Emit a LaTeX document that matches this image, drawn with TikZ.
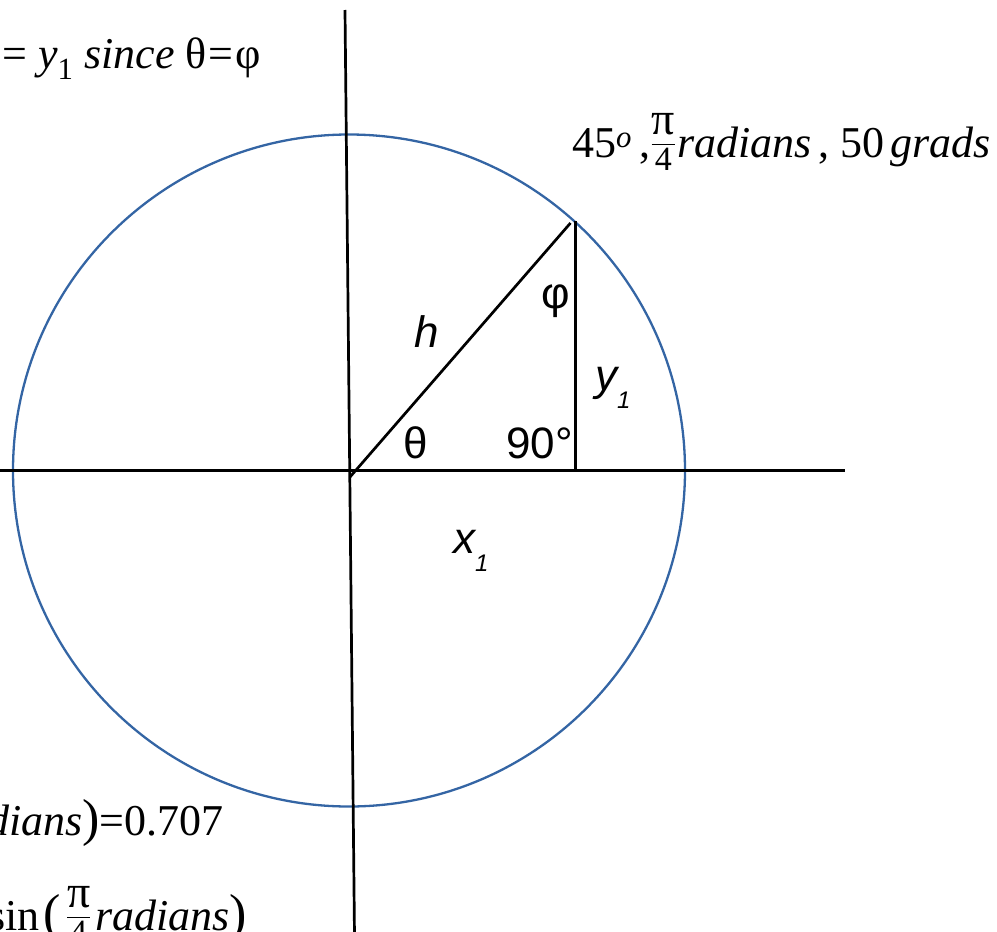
\documentclass[tikz,border=0pt]{standalone}
\usepackage{fontspec}
\usepackage{amsmath}
\usepackage{xcolor}
\setmainfont{Liberation Serif}
\setsansfont{Liberation Sans}
\definecolor{circleblue}{HTML}{3465A4}

\newcommand{\quarterpi}{\raisebox{6pt}{\fontsize{34}{34}\selectfont$\dfrac{\text{\fontsize{46}{46}\selectfont π}}{\text{4}}$}}

\tikzset{
  axis/.style={line width=2.7pt, black},
  unitcircle/.style={line width=2.3pt, circleblue},
  formula/.style={inner sep=0pt, font=\fontsize{44}{50}\selectfont},
  anglelabel/.style={inner sep=0pt, font=\sffamily\fontsize{44}{50}\selectfont},
}

\begin{document}
\begin{tikzpicture}[x=1pt, y=-1pt]
    \useasboundingbox (0,0) rectangle (997,932);
    \clip (0,0) rectangle (997,932);

    \coordinate (O) at (349,470.5);
    \coordinate (xl) at (0,470.5);
    \coordinate (xr) at (845,470.5);
    \coordinate (yt) at (345,10);
    \coordinate (yb) at (354.5,936);
    \coordinate (h0) at (350,477);
    \coordinate (P) at (570.5,223);
    \coordinate (top) at (575.5,221);
    \coordinate (foot) at (575.5,470.5);

    \draw[unitcircle] (O) circle [radius=336pt];
    \draw[axis] (xl) -- (xr);
    \draw[axis] (yt) -- (yb);

    % triangle
    \draw[axis] (h0) -- (P);
    \draw[axis] (top) -- (foot);

    \node[anglelabel, anchor=base] (theta) at (416,458) {θ};
    \node[anglelabel, anchor=base west] (right) at (506,458) {90°};
    \node[anglelabel, anchor=center] (phi) at (556,301) {φ};
    \node[anglelabel, anchor=base] (hyp) at (427,347) {\itshape h};
    \node[anglelabel, anchor=base west] (opp) at (595,390) {\itshape y\raisebox{-18pt}{\fontsize{24}{24}\selectfont 1}};
    \node[anglelabel, anchor=base west] (adj) at (453,553) {\itshape x\raisebox{-18pt}{\fontsize{24}{24}\selectfont 1}};

    % formulas
    \node[formula, anchor=base west] (eq) at (2,68) {= \textit{y}\textsubscript{1} \textit{since} θ\kern2pt=\kern2pt φ};
    \node[formula, anchor=base west] (angle) at (572,157) {45\textsuperscript{\textit{o}}\,,\quarterpi\kern1pt\textit{radians}\,, 50\kern6pt\textit{grads}};
    \node[formula, anchor=base east] (cosv) at (224,835) {\textit{radians}{\fontsize{52}{52}\selectfont)}=0.707};
    \node[formula, anchor=base west] (sinv) at (-12,930) {sin\kern4pt{\fontsize{52}{52}\selectfont(}\kern5pt\quarterpi\kern4pt\textit{radians}{\fontsize{52}{52}\selectfont)}};
\end{tikzpicture}
\end{document}
